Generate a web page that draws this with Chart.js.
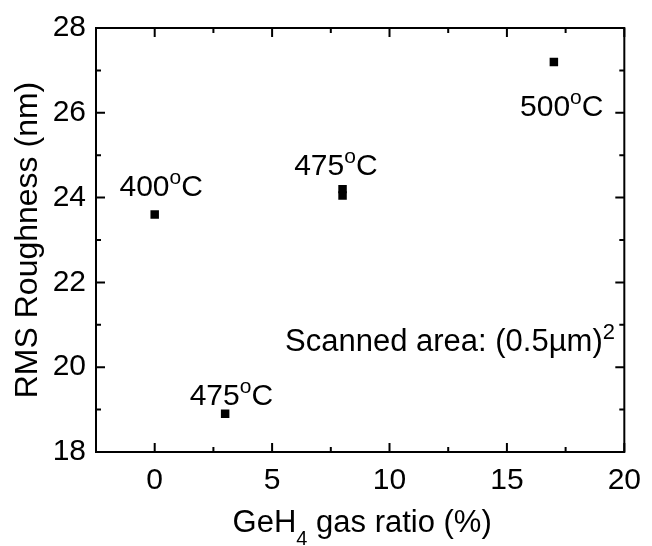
<!DOCTYPE html>
<html>
<head>
<meta charset="utf-8">
<script src="https://cdn.jsdelivr.net/npm/chart.js@4/dist/chart.umd.min.js"></script>
<style>
  body { margin: 0; background: #fff; }
  #wrap { width: 652px; height: 546px; }
</style>
</head>
<body>
<div id="wrap"><canvas id="roughChart" width="652" height="546"></canvas></div>
<script>
// GeH4 gas ratio (%) vs RMS roughness (nm)
var gasRatio  = [0, 3, 8, 8, 17];
var roughness = [23.6, 18.9, 24.2, 24.05, 27.2];

var xTicks = [0, 5, 10, 15, 20];
var yTicks = [18, 20, 22, 24, 26, 28];

// temperature labels, placed in data units (left edge / baseline)
var labelText = ['400', '475', '475', '500'];
var labelX    = [-1.5, 5.94, 1.49, 15.56];
var labelY    = [24.04, 24.53, 19.1, 25.93];

var FONT = '"Liberation Sans", Arial, sans-serif';

// draw a run of text parts, each part = [text, 'n' | 'sup' | 'sub']
function drawRich(ctx, parts, x, y, size) {
  parts.forEach(function (p) {
    var s = size, dy = 0;
    if (p[1] == 'sup') { s = Math.round(size * 0.7); dy = -12; }
    if (p[1] == 'sub') { s = Math.round(size * 0.66); dy = 13; }
    ctx.font = s + 'px ' + FONT;
    ctx.fillText(p[0], x, y + dy);
    x += ctx.measureText(p[0]).width;
  });
}
function richWidth(ctx, parts, size) {
  var w = 0;
  parts.forEach(function (p) {
    var s = p[1] == 'n' ? size : Math.round(size * (p[1] == 'sup' ? 0.7 : 0.66));
    ctx.font = s + 'px ' + FONT;
    w += ctx.measureText(p[0]).width;
  });
  return w;
}

var framePlugin = {
  id: 'frame',
  afterDraw: function (chart) {
    var ctx = chart.ctx, a = chart.chartArea;
    var xs = chart.scales.x, ys = chart.scales.y;
    ctx.save();
    ctx.strokeStyle = '#000';
    ctx.lineWidth = 2;
    ctx.strokeRect(a.left, a.top, a.right - a.left, a.bottom - a.top);

    ctx.beginPath();
    // x ticks, major every 5, minor every 2.5 (inward, top and bottom)
    for (var v = -2.5; v <= 20; v += 2.5) {
      var px = xs.getPixelForValue(v);
      var len = (v % 5 == 0) ? 9 : 5;
      ctx.moveTo(px, a.bottom); ctx.lineTo(px, a.bottom - len);
      ctx.moveTo(px, a.top); ctx.lineTo(px, a.top + len);
    }
    // y ticks, major every 2, minor every 1
    for (var w = 18; w <= 28; w += 1) {
      var py = ys.getPixelForValue(w);
      var l2 = (w % 2 == 0) ? 9 : 5;
      ctx.moveTo(a.left, py); ctx.lineTo(a.left + l2, py);
      ctx.moveTo(a.right, py); ctx.lineTo(a.right - l2, py);
    }
    ctx.stroke();

    ctx.fillStyle = '#000';
    ctx.textBaseline = 'alphabetic';
    ctx.textAlign = 'left';
    for (var i = 0; i < labelText.length; i++) {
      drawRich(ctx, [[labelText[i], 'n'], ['o', 'sup'], ['C', 'n']],
        xs.getPixelForValue(labelX[i]), ys.getPixelForValue(labelY[i]), 30);
    }
    drawRich(ctx, [['Scanned area: (0.5\u00b5m)', 'n'], ['2', 'sup']],
      xs.getPixelForValue(5.55), ys.getPixelForValue(20.38), 31);

    // axis titles
    var xt = [['GeH', 'n'], ['4', 'sub'], [' gas ratio (%)', 'n']];
    var tw = richWidth(ctx, xt, 31);
    drawRich(ctx, xt, (a.left + a.right) / 2 - tw / 2 + 2, 532, 31);

    ctx.translate(37, (a.top + a.bottom) / 2);
    ctx.rotate(-Math.PI / 2);
    ctx.textAlign = 'center';
    ctx.font = '32px ' + FONT;
    ctx.fillText('RMS Roughness (nm)', 0, 0);
    ctx.restore();
  }
};

var ctx = document.getElementById('roughChart').getContext('2d');
var roughChart = new Chart(ctx, {
  type: 'scatter',
  data: {
    datasets: [{
      data: gasRatio.map(function (g, i) { return { x: g, y: roughness[i] }; }),
      pointStyle: 'rect',
      pointRadius: 6,
      backgroundColor: '#000',
      borderWidth: 0
    }]
  },
  options: {
    responsive: false,
    animation: false,
    events: [],
    layout: { padding: { left: 0, top: 23, right: 18, bottom: 0 } },
    plugins: { legend: { display: false }, tooltip: { enabled: false } },
    scales: {
      x: {
        type: 'linear', min: -2.5, max: 20,
        grid: { display: false, drawTicks: false },
        border: { display: false },
        afterBuildTicks: function (s) { s.ticks = xTicks.map(function (v) { return { value: v }; }); },
        afterFit: function (s) { s.height = 94; },
        ticks: { color: '#000', padding: 11, maxRotation: 0, font: { family: FONT, size: 30 } }
      },
      y: {
        type: 'linear', min: 18, max: 28,
        grid: { display: false, drawTicks: false },
        border: { display: false },
        afterBuildTicks: function (s) { s.ticks = yTicks.map(function (v) { return { value: v }; }); },
        afterFit: function (s) { s.width = 96; },
        ticks: { color: '#000', padding: 10, font: { family: FONT, size: 30 } }
      }
    }
  },
  plugins: [framePlugin]
});
</script>
</body>
</html>
